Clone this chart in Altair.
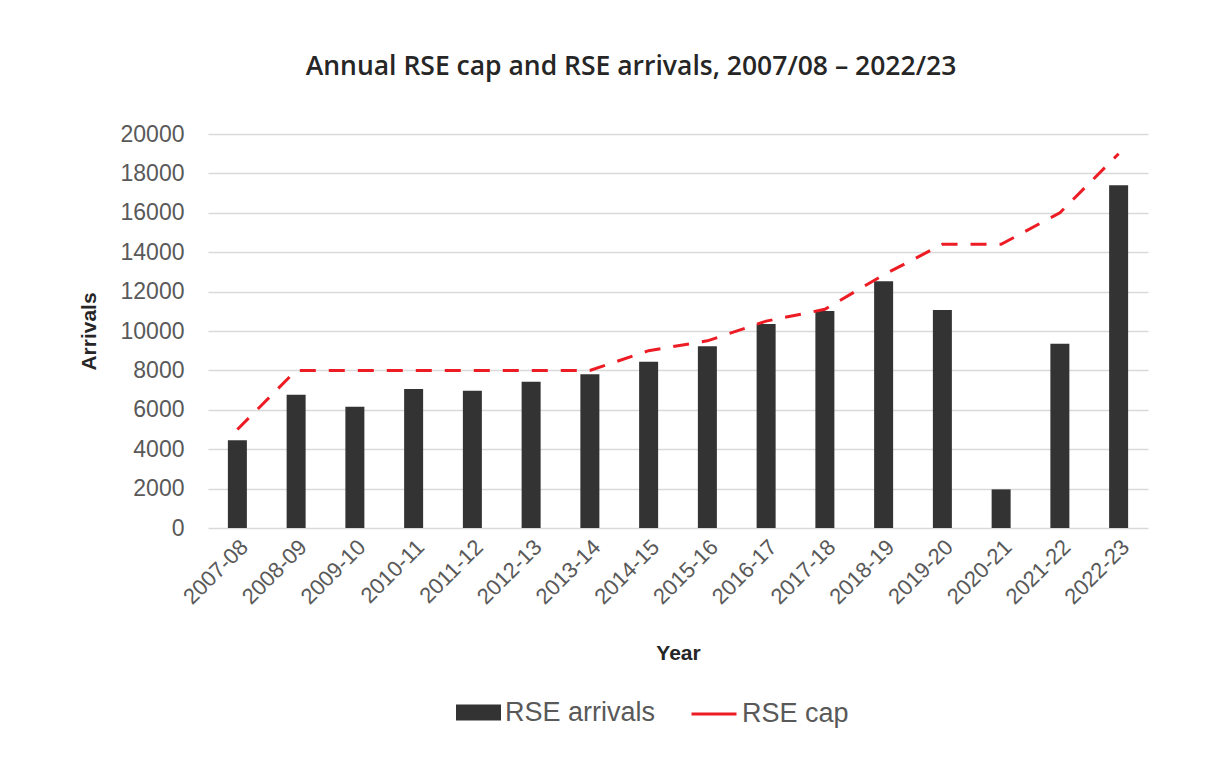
import altair as alt
import pandas as pd

years = ["2007-08", "2008-09", "2009-10", "2010-11", "2011-12", "2012-13", "2013-14", "2014-15",
         "2015-16", "2016-17", "2017-18", "2018-19", "2019-20", "2020-21", "2021-22", "2022-23"]
arrivals = [4450, 6770, 6160, 7050, 6970, 7430, 7800, 8440,
            9230, 10360, 11020, 12520, 11070, 1960, 9350, 17400]
cap = [5000, 8000, 8000, 8000, 8000, 8000, 8000, 9000,
       9500, 10500, 11100, 12850, 14400, 14400, 16000, 19000]
bar_name = ["RSE arrivals"]
line_name = ["RSE cap"]
bar_color = ["#333333"]
line_color = ["#ED1C24"]
y_ticks = list(range(0, 20001, 2000))

df_bar = pd.DataFrame({"Year": years, "Value": arrivals, "Series": bar_name[0]})
df_line = pd.DataFrame({"Year": years, "Value": cap, "Series": line_name[0]})

legend_common = dict(
    title=None,
    orient="none",
    direction="horizontal",
    labelFontSize=27,
    labelFont="Liberation Sans",
    labelColor="#595959",
    labelOffset=4,
    symbolSize=2025,
    padding=0,
    legendY=556,
)

fill = alt.Fill(
    "Series:N",
    scale=alt.Scale(domain=bar_name, range=bar_color),
    legend=alt.Legend(symbolType="M-1,-0.355H1V0.355H-1Z", symbolStrokeWidth=0,
                      legendX=248, **legend_common),
)
stroke = alt.Stroke(
    "Series:N",
    scale=alt.Scale(domain=line_name, range=line_color),
    legend=alt.Legend(symbolType="M-1,0H1", symbolStrokeWidth=3,
                      legendX=482, **legend_common),
)

x = alt.X(
    "Year:N",
    sort=years,
    title="Year",
    scale=alt.Scale(paddingInner=0.0, paddingOuter=0.0),
    axis=alt.Axis(
        labelAngle=-45,
        labelFontSize=22,
        labelFont="Liberation Sans",
        labelColor="#595959",
        labelPadding=8,
        ticks=False,
        domain=False,
        titleFontSize=21,
        titleFont="Liberation Sans",
        titleFontWeight="bold",
        titleColor="#262626",
        titlePadding=35,
    ),
)

y = alt.Y(
    "Value:Q",
    title="Arrivals",
    scale=alt.Scale(domain=[0, 20000], nice=False),
    axis=alt.Axis(
        values=y_ticks,
        format="d",
        labelFontSize=23,
        labelFont="Liberation Sans",
        labelColor="#595959",
        labelPadding=24,
        ticks=False,
        domain=False,
        gridColor="#D9D9D9",
        gridWidth=1.5,
        titleFontSize=21,
        titleFont="Liberation Sans",
        titleFontWeight="bold",
        titleColor="#262626",
        titlePadding=21,
    ),
)

bars = alt.Chart(df_bar).mark_bar(size=19).encode(x=x, y=y, fill=fill)
line = alt.Chart(df_line).mark_line(strokeWidth=3, strokeDash=[16, 13]).encode(x=x, y=y, stroke=stroke)

chart = (
    alt.layer(bars, line)
    .properties(
        width=940,
        height=394,
        padding={"left": 70, "top": 45, "right": 50, "bottom": 10},
        background="white",
        title=alt.TitleParams(
            "Annual RSE cap and RSE arrivals, 2007/08 – 2022/23",
            font="Open Sans",
            fontSize=26.5,
            fontWeight=600,
            color="#262626",
            anchor="middle",
            dx=-47,
            offset=43,
        ),
    )
    .configure_view(stroke=None)
)

chart.save("out.html", embed_options={"renderer": "svg", "actions": False})
